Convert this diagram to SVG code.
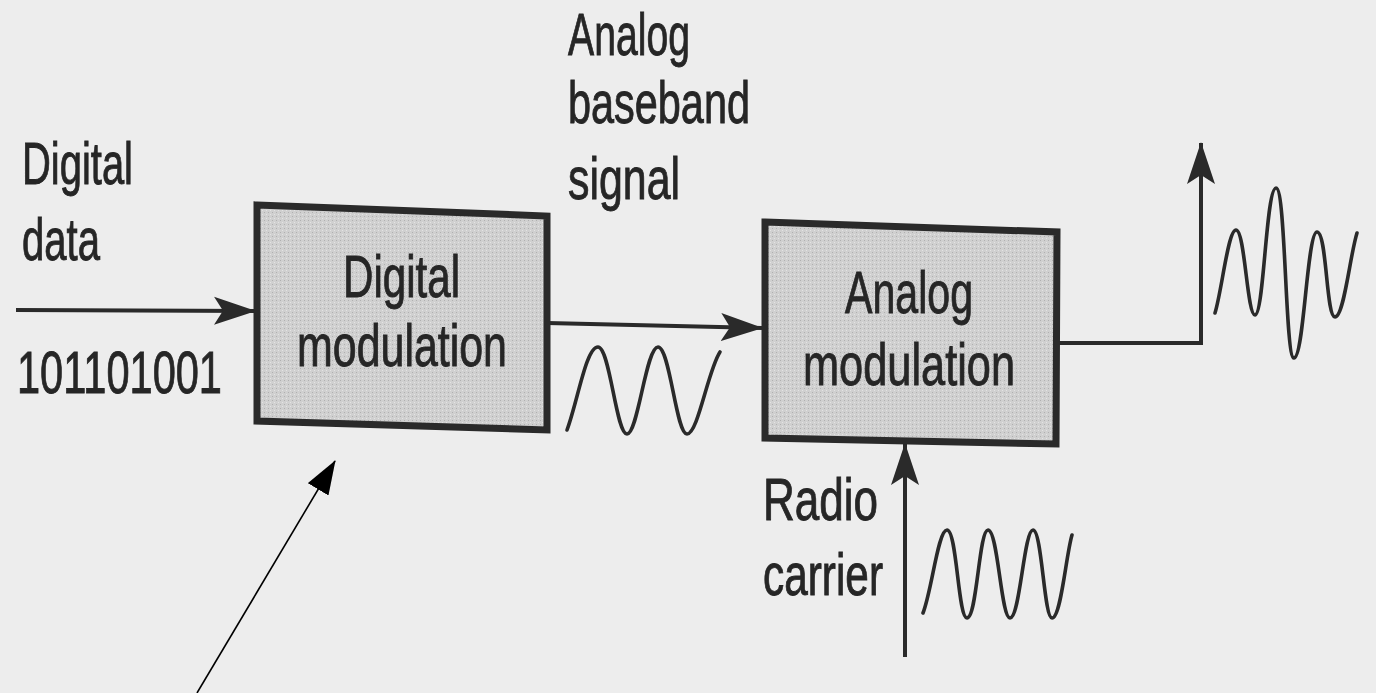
<svg xmlns="http://www.w3.org/2000/svg" width="1376" height="693" viewBox="0 0 1376 693">
  <style>
    .t { font-family: "Liberation Sans", Arial, sans-serif; font-size: 59px; fill: #262626; stroke: #262626; stroke-width: 0.9; }
    .box { stroke: #2a2a2a; stroke-width: 7; stroke-linejoin: miter; fill: url(#stipple); }
    .conn { stroke: #2a2a2a; stroke-width: 4; fill: none; }
    .wave { stroke: #2a2a2a; stroke-width: 3.6; fill: none; stroke-linecap: round; }
    .thin { stroke: #000; stroke-width: 1.6; fill: none; }
  </style>
  <defs>
    <pattern id="stipple" width="4" height="4" patternUnits="userSpaceOnUse">
      <rect width="4" height="4" fill="#d0d0d0"/>
      <rect x="0" y="0" width="1" height="1" fill="#b0b0b0"/>
      <rect x="2" y="2" width="1" height="1" fill="#e4e4e4"/>
    </pattern>
    <marker id="head" markerUnits="userSpaceOnUse" markerWidth="42" markerHeight="30" viewBox="0 0 42 30" refX="41" refY="15" orient="auto">
      <path d="M0,1 L42,15 L0,29 L9,15 z" fill="#2a2a2a"/>
    </marker>
    <marker id="headThin" markerUnits="userSpaceOnUse" markerWidth="34" markerHeight="24" viewBox="0 0 34 24" refX="33" refY="12" orient="auto">
      <path d="M0,0 L34,12 L0,24 z" fill="#000"/>
    </marker>
  </defs>

  <rect width="1376" height="693" fill="#ededed"/>

  <g id="connectors">
    <line class="conn" x1="16" y1="310" x2="255" y2="311" marker-end="url(#head)"/>
    <line class="conn" x1="547" y1="323" x2="762" y2="328" marker-end="url(#head)"/>
    <polyline class="conn" points="1057,343 1201,343 1201,143" marker-end="url(#head)"/>
    <line class="conn" x1="905" y1="657" x2="905" y2="444" marker-end="url(#head)"/>
    <line class="thin" x1="197" y1="693" x2="335" y2="461" marker-end="url(#headThin)"/>
  </g>

  <g id="node-digital-modulation">
    <polygon class="box" points="257,205 547,216 547,430 257,421"/>
    <text class="t" x="343" y="297" textLength="117" lengthAdjust="spacingAndGlyphs">Digital</text>
    <text class="t" x="297" y="366" textLength="210" lengthAdjust="spacingAndGlyphs">modulation</text>
  </g>

  <g id="node-analog-modulation">
    <polygon class="box" points="765,222 1057,232 1056,444 765,438"/>
    <text class="t" x="845" y="313" textLength="128" lengthAdjust="spacingAndGlyphs">Analog</text>
    <text class="t" x="803" y="385" textLength="212" lengthAdjust="spacingAndGlyphs">modulation</text>
  </g>

  <g id="label-digital-data">
    <text class="t" x="22" y="184" textLength="111" lengthAdjust="spacingAndGlyphs">Digital</text>
    <text class="t" x="22" y="260" textLength="78" lengthAdjust="spacingAndGlyphs">data</text>
    <text class="t" x="17" y="393" textLength="205" lengthAdjust="spacingAndGlyphs">101101001</text>
  </g>

  <g id="label-analog-baseband">
    <text class="t" x="568" y="55" textLength="122" lengthAdjust="spacingAndGlyphs">Analog</text>
    <text class="t" x="568" y="123" textLength="182" lengthAdjust="spacingAndGlyphs">baseband</text>
    <text class="t" x="568" y="199" textLength="112" lengthAdjust="spacingAndGlyphs">signal</text>
  </g>

  <g id="label-radio-carrier">
    <text class="t" x="763" y="520" textLength="115" lengthAdjust="spacingAndGlyphs">Radio</text>
    <text class="t" x="763" y="595" textLength="120" lengthAdjust="spacingAndGlyphs">carrier</text>
  </g>

  <g id="waveforms">
    <path class="wave" d="M567,430 C578,400 586,347 598,347 C610,347 616,434 627,434 C638,434 646,347 658,347 C670,347 676,434 687,434 C698,434 708,370 720,352"/>
    <path class="wave" d="M923,613 C932,590 938,530 947,530 C957,530 958,618 967,618 C977,618 979,530 988,530 C998,530 1001,618 1010,618 C1020,618 1024,530 1033,530 C1042,530 1044,618 1052,618 C1061,618 1066,555 1072,535"/>
    <path class="wave" d="M1215,313 C1222,290 1228,230 1236,230 C1245,230 1247,315 1255,315 C1264,315 1266,188 1276,188 C1286,188 1285,358 1294,358 C1304,358 1307,232 1317,232 C1327,232 1326,317 1335,317 C1344,317 1350,255 1357,233"/>
  </g>
</svg>
